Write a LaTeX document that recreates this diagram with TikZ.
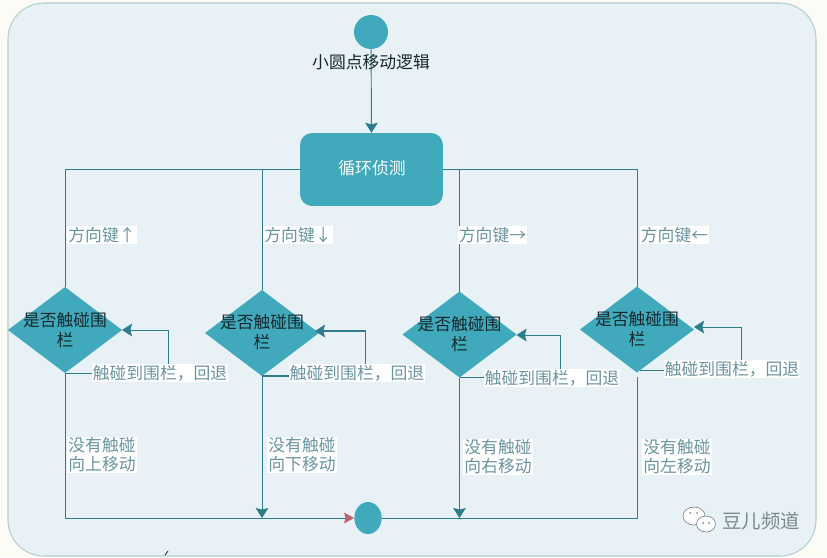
\documentclass[tikz,border=0pt]{standalone}
\usepackage{fontspec}
\setmainfont{Noto Sans CJK SC}
\usetikzlibrary{arrows.meta,shapes.geometric}
\definecolor{pagebg}{HTML}{FDFBF5}
\definecolor{panelbg}{HTML}{E8F1F5}
\definecolor{panelln}{HTML}{B4CDD1}
\definecolor{shapefill}{HTML}{41A9BC}
\definecolor{linkcol}{HTML}{2F7C8A}
\definecolor{labcol}{HTML}{6A959F}
\definecolor{inkcol}{HTML}{16282C}
\definecolor{tipred}{HTML}{C0606C}
\definecolor{markcol}{HTML}{7C8A8E}
\tikzset{
  x=0.75pt,y=-0.75pt,
  link/.style={draw=linkcol,line width=0.7pt},
  arrowlink/.style={link,-{Stealth[length=7.5pt,width=9.5pt,inset=1.2pt,color=linkcol]}},
  redlink/.style={link,-{Stealth[length=7.5pt,width=8pt,inset=1.2pt,color=tipred]}},
  decision/.style={diamond,fill=shapefill,inner sep=0pt,outer sep=0pt,minimum width=85.5pt,minimum height=64.5pt},
  dtext/.style={font=\fontsize{12.6pt}{15.6pt}\selectfont,text=inkcol,align=center,inner sep=0pt},
  edgelab/.style={font=\fontsize{12.6pt}{14.4pt}\selectfont,text=labcol,fill=white,align=center,inner sep=0.8pt},
  arrowglyph/.style={},
  dot/.style={circle,fill=markcol,inner sep=0pt,minimum size=1.5pt}
}
\begin{document}
\begin{tikzpicture}
\useasboundingbox (0,0) rectangle (827,557);
\fill[pagebg] (0,0) rectangle (827,557);
\draw[fill=panelbg,draw=panelln,line width=0.8pt,rounded corners=27pt] (8,3) rectangle (816,556);

\node[circle,fill=shapefill,inner sep=0pt,minimum size=25.5pt] (start) at (371,32) {};
\node[rounded corners=9pt,fill=shapefill,inner sep=0pt,minimum width=107.2pt,minimum height=54.7pt] (loop) at (371.5,169.5) {};
\node[decision] (d1) at (65,330) {};
\node[decision] (d2) at (262,333) {};
\node[decision] (d3) at (459.5,334.5) {};
\node[decision] (d4) at (637,329.5) {};
\node[ellipse,fill=shapefill,inner sep=0pt,minimum width=20.5pt,minimum height=24pt] (stop) at (368,518) {};

\coordinate (k1) at (168,330);
\coordinate (k2) at (365.5,331);
\coordinate (k3) at (560,335);
\coordinate (k4) at (741,327);
\coordinate (a4) at (640,370);
\coordinate (e2) at (315,331);
\coordinate (e3) at (d3.east |- k3);
\coordinate (e4) at (d4.east |- k4);
\coordinate (s1) at (165,555);
\coordinate (s2) at (168,551);

\draw[arrowlink] (start) -- (loop.north);
\draw[link] (loop.west) -| (d1.north);
\draw[link] (d2.north) -- (d2.north |- loop.west);
\draw[link] (loop.east) -| (d4.north);
\draw[link] (d3.north) -- (d3.north |- loop.east);

\draw[redlink] (d1.south) |- (stop.west);
\draw[arrowlink] (d2.south) -- (d2.south |- stop.west);
\draw[arrowlink] (d3.south) -- (d3.south |- stop.west);
\draw[link,shorten <=3.5pt] (d4.south) |- (stop.east);

\draw[arrowlink] (d1.south) -| (k1) -- (d1.east);
\draw[arrowlink,line width=1.1pt] (d2.south) -| (k2) -- (e2);
\draw[arrowlink] (d3.south) -| (k3) -- (e3);
\draw[arrowlink] (a4) -| (k4) -- (e4);
\draw[inkcol,line width=0.6pt] (s1) -- (s2);

\node[dtext] (t0) at (371,62.5) {小圆点移动逻辑};
\node[inner sep=0pt,text=white,font=\fontsize{12.6pt}{15pt}\selectfont] (t1) at (372,168.5) {循环侦测};
\node[dtext] (q1) at (65,330) {是否触碰围\\栏};
\node[dtext] (q2) at (262,332) {是否触碰围\\栏};
\node[dtext] (q3) at (459.5,334) {是否触碰围\\栏};
\node[dtext] (q4) at (637,329) {是否触碰围\\栏};

\node[edgelab] (u1) at (102,235) {方向键↑};
\node[edgelab] (u2) at (298,235) {方向键↓};
\node[edgelab] (u3) at (492.5,235) {方向键→};
\node[edgelab] (u4) at (674.5,235) {方向键←};

\node[edgelab] (b1) at (160,373) {触碰到围栏，回退};
\node[edgelab] (b2) at (357,373) {触碰到围栏，回退};
\node[edgelab] (b3) at (552,378) {触碰到围栏，回退};
\node[edgelab] (b4) at (732,369) {触碰到围栏，回退};

\node[edgelab] (m1) at (102,455) {没有触碰\\向上移动};
\node[edgelab] (m2) at (302,455) {没有触碰\\向下移动};
\node[edgelab] (m3) at (498,457) {没有触碰\\向右移动};
\node[edgelab] (m4) at (677,457) {没有触碰\\向左移动};

% watermark
\draw[markcol,fill=white,line width=0.5pt] (694,516) ellipse (11 and 9);
\draw[markcol,fill=white,line width=0.5pt] (706,524) ellipse (9.5 and 8);
\node[dot] (w1) at (690,513) {};
\node[dot] (w2) at (697,513) {};
\node[dot] (w3) at (703,523) {};
\node[dot] (w4) at (709,523) {};
\node[inner sep=0pt,text=markcol,font=\fontsize{14.6pt}{16pt}\selectfont] (wm) at (761,521) {豆儿频道};
\end{tikzpicture}
\end{document}
